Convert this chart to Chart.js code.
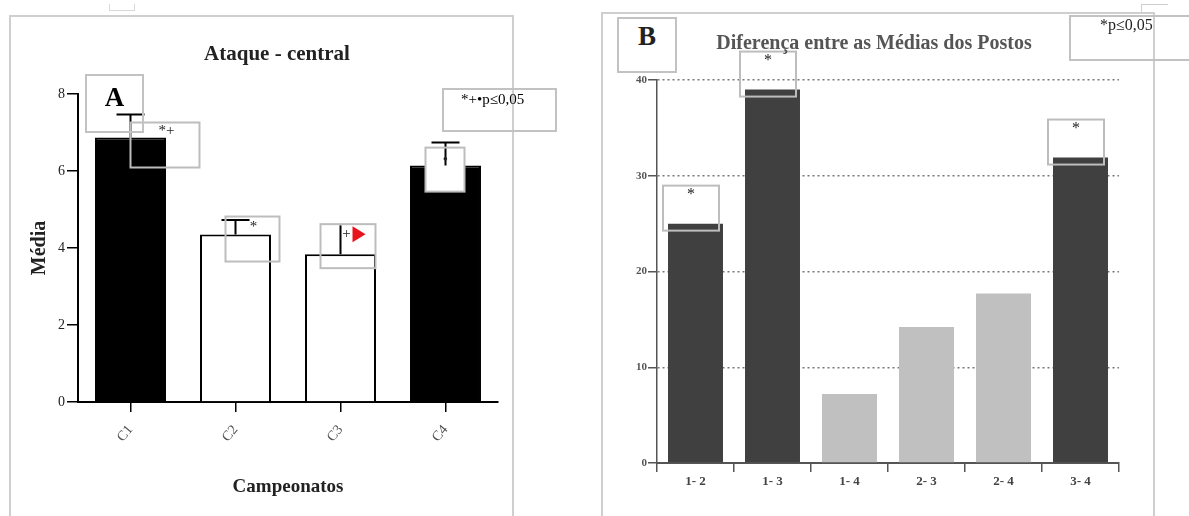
<!DOCTYPE html>
<html>
<head>
<meta charset="utf-8">
<script src="https://cdn.jsdelivr.net/npm/chart.js@4.4.1/dist/chart.umd.min.js"></script>
<style>
    body { margin: 0; background: #fff; width: 1189px; height: 516px; overflow: hidden; position: relative; font-family: 'Liberation Serif', serif; }
    .abs { position: absolute; }
    .frame { position: absolute; border: 2px solid #cfcfcf; }
    .tbox { position: absolute; border: 2px solid #c2c2c2; background: transparent; box-sizing: border-box; }
    .title { position: absolute; transform: translateX(-50%); white-space: nowrap; font-weight: bold; }
</style>
</head>
<body>

<!-- cadres des deux panneaux -->
<div class="frame" style="left:9px;top:15px;width:501px;height:600px"></div>
<div class="frame" style="left:601px;top:12px;width:550px;height:600px"></div>
<div class="abs" style="left:109px;top:4px;width:24px;height:6px;border:1px solid #d8d8d8;border-top:none"></div>
<div class="abs" style="left:1141px;top:4px;width:26px;height:9px;border-left:1px solid #cfcfcf;border-top:1px solid #cfcfcf"></div>

<div class="abs" style="left:10px;top:16px"><canvas id="chartA" width="503" height="500"></canvas></div>
<div class="abs" style="left:602px;top:13px"><canvas id="chartB" width="553" height="503"></canvas></div>

<!-- titres et cartouches -->
<div class="title" style="left:277px;top:41px;font-size:21px;line-height:24px;color:#222">Ataque - central</div>
<div class="title" style="left:874px;top:30px;font-size:20px;line-height:24px;color:#555">Diferença entre as Médias dos Postos</div>

<div class="tbox" style="left:85px;top:74px;width:59px;height:59px;text-align:center;font-weight:bold;font-size:27px;line-height:30px;padding-top:6px">A</div>
<div class="tbox" style="left:442px;top:88px;width:115px;height:44px;font-size:15px;line-height:18px;padding-left:17px">*+•p≤0,05</div>

<div class="tbox" style="left:617px;top:17px;width:60px;height:56px;background:#fff;text-align:center;font-weight:bold;font-size:27px;line-height:30px;padding-top:2px;color:#222">B</div>
<div class="tbox" style="left:1069px;top:15px;width:130px;height:46px;font-size:16px;line-height:16px;padding-left:29px;color:#222">*p≤0,05</div>

<script>
/**
 * Donnees du panneau A - Ataque central
 */
const campeonatos = ['C1', 'C2', 'C3', 'C4'];
const mediaValues = [6.87, 4.35, 3.84, 6.14];
const mediaErrors = [0.60, 0.38, 0.75, 0.60];
const mediaNotes = ['*+', '*', '+', '•'];
const mediaTicks = [0, 2, 4, 6, 8];

/**
 * Donnees du panneau B - Diferenca entre as medias dos postos
 */
const pares = ['1- 2', '1- 3', '1- 4', '2- 3', '2- 4', '3- 4'];
const diferencas = [25, 39, 7.2, 14.2, 17.7, 31.9];
const significativo = [true, true, false, false, false, true];
const difTicks = [0, 10, 20, 30, 40];

const SERIF = "'Liberation Serif', 'Times New Roman', serif";

// position des cartouches du panneau A, relative au centre et au sommet de chaque barre
const A_BOXES = [
    { dx: [0, 69], dy: [-15, 30], tx: 36, ty: -6 },
    { dx: [-10, 44], dy: [-18, 27], tx: 18, ty: -7 },
    { dx: [-20, 35], dy: [-30, 14], tx: 6, ty: -20, arrow: true },
    { dx: [-20, 19], dy: [-18, 26], tx: 0, ty: -6, fill: true }
];
const A_CAPS = [true, true, false, true];

/**
 * Barres d'erreur + cartouches du panneau A
 */
const errorBarsPlugin = {
    id: 'errorBars',
    afterDatasetsDraw(chart) {
        const ctx = chart.ctx;
        const yScale = chart.scales.y;
        const meta = chart.getDatasetMeta(0);
        ctx.save();

        // fond blanc des cartouches opaques
        ctx.fillStyle = '#fff';
        meta.data.forEach(function (bar, i) {
            const b = A_BOXES[i];
            if (b.fill) {
                ctx.fillRect(bar.x + b.dx[0], bar.y + b.dy[0], b.dx[1] - b.dx[0], b.dy[1] - b.dy[0]);
            }
        });

        ctx.strokeStyle = '#000';
        ctx.lineWidth = 2;
        meta.data.forEach(function (bar, i) {
            const top = yScale.getPixelForValue(mediaValues[i] + mediaErrors[i]);
            ctx.beginPath();
            ctx.moveTo(bar.x, bar.y);
            ctx.lineTo(bar.x, top);
            if (A_CAPS[i]) {
                ctx.moveTo(bar.x - 14, top);
                ctx.lineTo(bar.x + 14, top);
            }
            ctx.stroke();
        });

        // cartouches
        ctx.strokeStyle = '#bdbdbd';
        ctx.lineWidth = 2;
        ctx.font = '15px ' + SERIF;
        ctx.textAlign = 'center';
        ctx.textBaseline = 'middle';
        meta.data.forEach(function (bar, i) {
            const b = A_BOXES[i];
            ctx.strokeRect(bar.x + b.dx[0], bar.y + b.dy[0], b.dx[1] - b.dx[0], b.dy[1] - b.dy[0]);
            ctx.fillStyle = '#222';
            ctx.fillText(mediaNotes[i], bar.x + b.tx, bar.y + b.ty);
            if (b.arrow) {
                ctx.fillStyle = '#e8141c';
                ctx.beginPath();
                ctx.moveTo(bar.x + b.tx + 6, bar.y + b.ty - 8);
                ctx.lineTo(bar.x + b.tx + 19, bar.y + b.ty);
                ctx.lineTo(bar.x + b.tx + 6, bar.y + b.ty + 8);
                ctx.closePath();
                ctx.fill();
            }
        });
        ctx.restore();
    }
};

/**
 * Etoiles de significativite du panneau B
 */
const starsPlugin = {
    id: 'stars',
    afterDatasetsDraw(chart) {
        const ctx = chart.ctx;
        const meta = chart.getDatasetMeta(0);
        ctx.save();
        ctx.strokeStyle = '#bdbdbd';
        ctx.lineWidth = 2;
        ctx.fillStyle = '#222';
        ctx.font = '16px ' + SERIF;
        ctx.textAlign = 'center';
        ctx.textBaseline = 'middle';
        meta.data.forEach(function (bar, i) {
            if (!significativo[i]) return;
            const left = bar.x - bar.width / 2 - 5;
            const top = bar.y - 38;
            ctx.strokeRect(left, top, 56, 45);
            ctx.fillText('*', left + 28, top + 9);
        });
        ctx.restore();
    }
};

// Graphique A
new Chart(document.getElementById('chartA'), {
    type: 'bar',
    data: {
        labels: campeonatos,
        datasets: [{
            data: mediaValues,
            backgroundColor: ['#000', '#fff', '#fff', '#000'],
            borderColor: '#000',
            borderWidth: 2,
            categoryPercentage: 1,
            barPercentage: 0.676
        }]
    },
    options: {
        responsive: false,
        animation: false,
        layout: { padding: { top: 78, right: 15, bottom: 10, left: 18 } },
        plugins: { legend: { display: false }, tooltip: { enabled: false } },
        scales: {
            x: {
                afterFit: function (s) { s.height = 104; },
                grid: { offset: false, drawOnChartArea: false, tickLength: 10, color: '#000', lineWidth: 1.5 },
                border: { color: '#000', width: 2 },
                ticks: { minRotation: 50, maxRotation: 50, padding: 10, color: '#555', font: { family: SERIF, size: 14 } },
                title: { display: true, text: 'Campeonatos', color: '#222', padding: { top: 0, bottom: 8 }, font: { family: SERIF, size: 19, weight: 'bold' } }
            },
            y: {
                min: 0,
                max: 8,
                afterFit: function (s) { s.width = 50; },
                afterBuildTicks: function (s) { s.ticks = mediaTicks.map(v => ({ value: v })); },
                grid: { drawOnChartArea: false, tickLength: 11, color: '#000', lineWidth: 1.5 },
                border: { color: '#000', width: 2 },
                ticks: { padding: 2, color: '#222', font: { family: SERIF, size: 14 } },
                title: { display: true, text: 'Média', color: '#222', padding: 0, font: { family: SERIF, size: 20, weight: 'bold' } }
            }
        }
    },
    plugins: [errorBarsPlugin]
});

// Graphique B
new Chart(document.getElementById('chartB'), {
    type: 'bar',
    data: {
        labels: pares,
        datasets: [{
            data: diferencas,
            backgroundColor: significativo.map(s => s ? '#404040' : '#c0c0c0'),
            borderWidth: 0,
            categoryPercentage: 1,
            barPercentage: 0.714
        }]
    },
    options: {
        responsive: false,
        animation: false,
        layout: { padding: { top: 67, right: 36, bottom: 13, left: 10 } },
        plugins: { legend: { display: false }, tooltip: { enabled: false } },
        scales: {
            x: {
                afterFit: function (s) { s.height = 40; },
                grid: { drawOnChartArea: false, tickLength: 9, color: '#555', lineWidth: 1.5 },
                border: { color: '#555', width: 2 },
                ticks: { padding: 2, color: '#444', font: { family: SERIF, size: 13, weight: 'bold' } }
            },
            y: {
                min: 0,
                max: 40,
                afterFit: function (s) { s.width = 45; },
                afterBuildTicks: function (s) { s.ticks = difTicks.map(v => ({ value: v })); },
                grid: {
                    color: ctx => ctx.tick && ctx.tick.value === 0 ? 'rgba(0,0,0,0)' : '#777',
                    tickColor: '#555',
                    lineWidth: 1.5,
                    tickLength: 9
                },
                border: { color: '#555', width: 1.5, dash: [2, 3] },
                ticks: { padding: 1, color: '#555', font: { family: SERIF, size: 11, weight: 'bold' } }
            }
        }
    },
    plugins: [starsPlugin]
});
</script>
</body>
</html>
